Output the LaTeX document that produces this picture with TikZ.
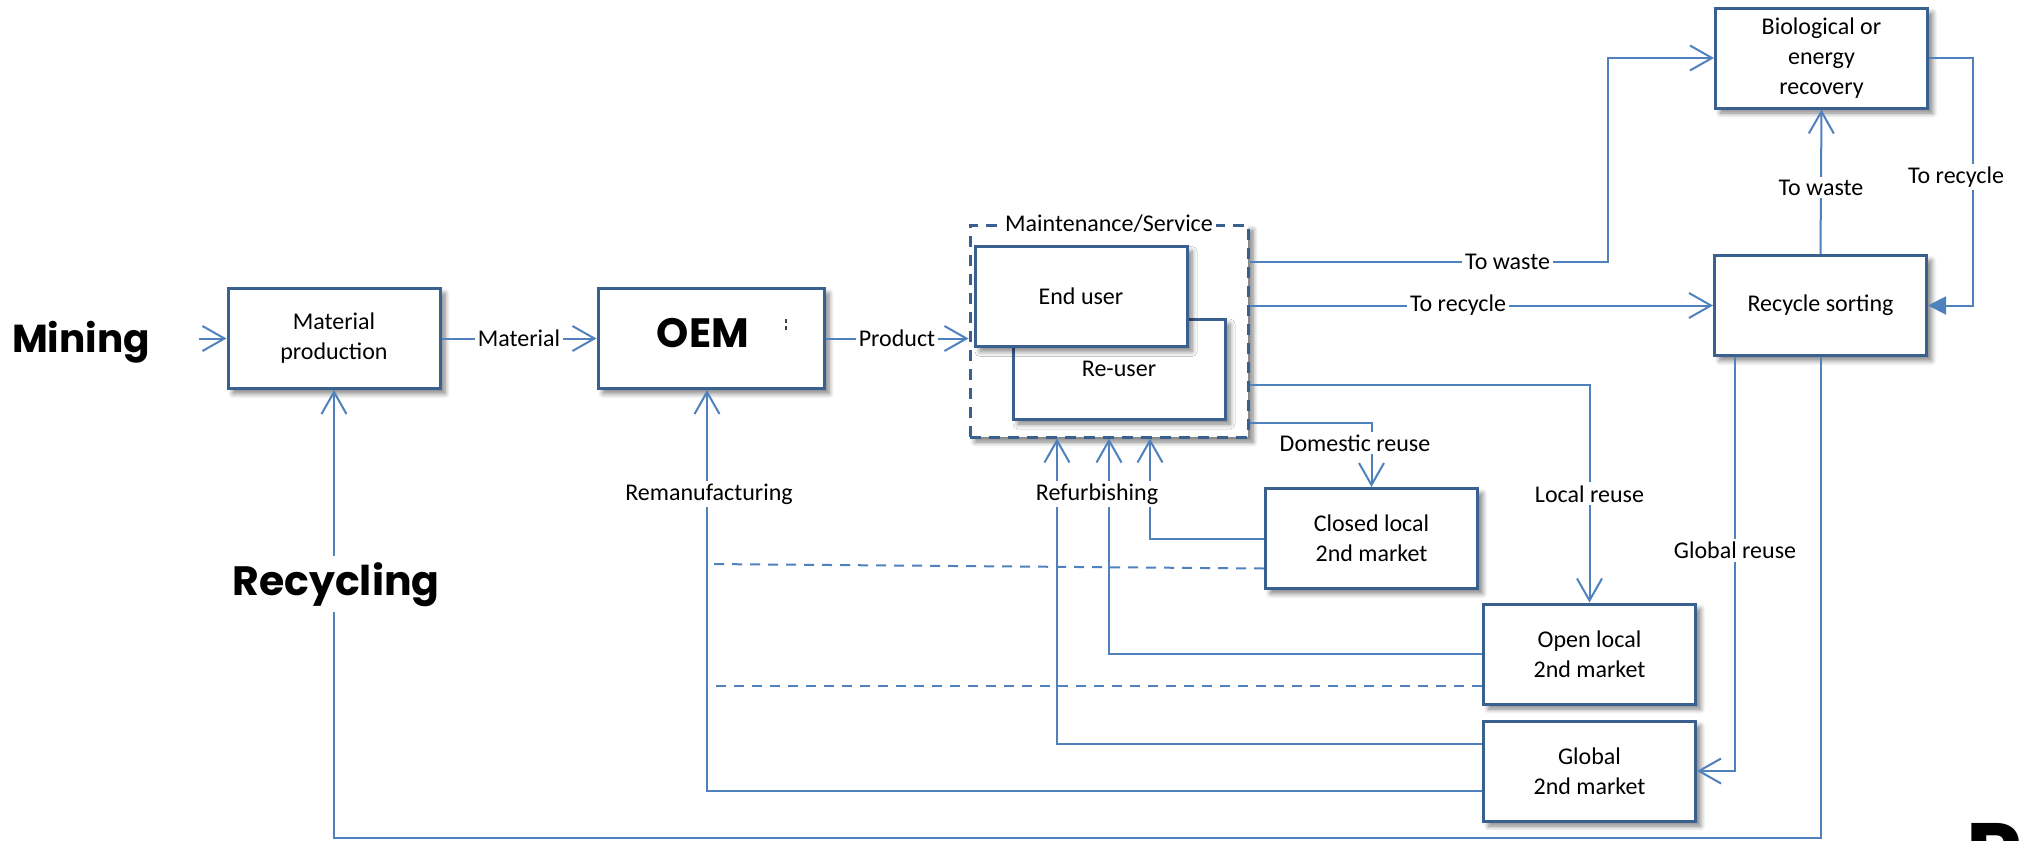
\documentclass[tikz,border=0pt]{standalone}
\usepackage{fontspec}
\setmainfont{Carlito}
\newfontfamily\poppins{Poppins}
\usetikzlibrary{arrows.meta,shadows.blur}
\definecolor{boxblue}{HTML}{3A6090}
\definecolor{flowblue}{HTML}{4F81BD}

\tikzset{
  txt/.style={font=\fontsize{12}{15}\selectfont},
  boxshadow/.style={blur shadow={shadow xshift=2.5pt, shadow yshift=-2.5pt,
      shadow blur radius=2.5pt, shadow blur steps=6, shadow opacity=50}},
  box/.style={draw=boxblue, line width=1.5pt, fill=white, inner sep=0pt,
      minimum width=106pt, minimum height=50pt, align=center, txt, boxshadow},
  flow/.style={draw=flowblue, line width=1pt,
      -{Straight Barb[length=11pt,width=12.5pt]}},
  dline/.style={draw=flowblue, line width=1pt, dash pattern=on 5pt off 4pt},
  lbl/.style={txt, fill=white, inner sep=1.5pt},
  heavy/.style={font={\poppins\bfseries\fontsize{#1}{24}\selectfont}},
}

\begin{document}
\begin{tikzpicture}[x=0.5pt,y=-0.5pt]
\useasboundingbox (0,0) rectangle (2026,841);

% ---------- boxes ----------
\node[box] (matprod) at (334,338.5) {Material\\production};
\node[box, minimum width=113pt] (oem) at (711,338.5) {};
\node[anchor=base, inner sep=0pt, heavy=20.5] (oemtext) at (703,347) {OEM};
\draw[black!75, line width=0.6pt, dash pattern=on 2pt off 1.5pt] (786,319) -- (786,333);

\node[draw=boxblue, line width=1.5pt, dash pattern=on 5.5pt off 4pt, fill=white,
      minimum width=139pt, minimum height=106pt, boxshadow] (maint) at (1109,331) {};
\node[lbl] (mainttitle) at (maint.north) {Maintenance/Service};
\node[box] (reuser) at (1119,369) {Re-user};
\node[box] (enduser) at (1081,296.5) {End user};

\node[box] (bio) at (1821.5,58) {Biological or\\energy\\recovery};
\node[box] (sort) at (1820.5,305.5) {Recycle sorting};
\node[box] (closed) at (1371.5,538.5) {Closed local\\2nd market};
\node[box] (openm) at (1589.5,654) {Open local\\2nd market};
\node[box] (global) at (1589.5,771) {Global\\2nd market};

% ---------- side titles ----------
\node[heavy=19.5, anchor=base, inner sep=0pt] (mining) at (81,352) {Mining};
\node[anchor=base west, inner sep=0pt, heavy=43.5] (cornerR) at (1966,884) {R};

% ---------- main chain ----------
\coordinate (minein) at (199,338.5);
\draw[flow] (minein) -- (matprod.west);
\draw[flow] (matprod.east) -- node[lbl] {Material} (oem.west);
\draw[flow] (oem.east) -- node[lbl] {Product} (oem.east -| maint.west);

% ---------- flows leaving the use phase ----------
\coordinate (wasteturn) at (1608,262);
\draw[flow] (maint.east |- wasteturn) -- node[lbl, pos=0.72] {To waste} (wasteturn) |- (bio.west);
\draw[flow] (maint.east |- sort.west) -- node[lbl, pos=0.45] {To recycle} (sort.west);
\coordinate (localturn) at (1589.5,385);
\draw[flow] (maint.east |- localturn) -| node[lbl, pos=0.75] {Local reuse} (openm.north);
\coordinate (domturn) at (1371.5,423);
\draw[flow] (maint.east |- domturn) -| (closed.north);
\node[lbl] (domlbl) at (1355,443) {Domestic reuse};

% ---------- recovery and sorting ----------
\draw[flow] (sort.north) -- node[lbl, pos=0.46] {To waste} (bio.south);
\coordinate (recturn) at (1973,180);
\draw[draw=flowblue, line width=1pt, -{Triangle[length=9pt,width=9pt]}]
     (bio.east) -| (recturn) |- (sort.east);
\node[lbl] (reclbl) at (1956,177) {To recycle};
\coordinate (globturn) at (1735,771);
\draw[flow] (sort.south -| globturn) |- node[lbl, pos=0.234] {Global reuse} (global.east);

% ---------- recycling loop ----------
\coordinate (loopbottom) at (1000,838);
\draw[flow] (sort.south) |- (loopbottom) -| (matprod.south);
\node[heavy=20.5, anchor=base, fill=white, inner sep=3pt] (recyc) at (336,595) {Recycling};

% ---------- refurbishing ----------
\coordinate (refA) at (1057,744);
\coordinate (refB) at (1109,654);
\coordinate (refC) at (1150,538.5);
\draw[flow] (global.west |- refA) -| (refA |- maint.south);
\draw[flow] (openm.west) -| (refB |- maint.south);
\draw[flow] (closed.west) -| (refC |- maint.south);
\node[lbl] (refurb) at (1097,494) {Refurbishing};

% ---------- remanufacturing ----------
\coordinate (remanA) at (707,791);
\draw[flow] (global.west |- remanA) -| (remanA |- oem.south);
\coordinate (dashA) at (707,564);
\coordinate (dashB) at (707,686);
\draw[dline] ([yshift=-15pt]closed.west) -- (dashA);
\draw[dline] (openm.west |- dashB) -- (dashB);
\node[lbl] (reman) at (709,494) {Remanufacturing};
\end{tikzpicture}
\end{document}
